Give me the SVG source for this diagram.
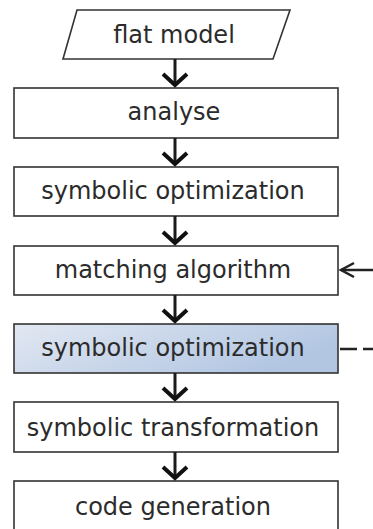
<svg xmlns="http://www.w3.org/2000/svg" width="373" height="529" viewBox="0 0 373 529">
<style>
.box{fill:#fff;stroke:#333;stroke-width:1.6}
.lbl{font-family:"DejaVu Sans",Verdana,sans-serif;font-size:24px;fill:#2b2b2b;text-anchor:middle}
.ln{stroke:#1a1a1a;stroke-width:3;fill:none}
.hd{stroke:#111;stroke-width:4;fill:none;stroke-linejoin:miter}
.side{stroke:#222;stroke-width:2.5;fill:none}
</style>
<defs>
<linearGradient id="blue" x1="0" y1="0" x2="1" y2="0.4">
<stop offset="0" stop-color="#e2e8f2"/>
<stop offset="1" stop-color="#b2c6e2"/>
</linearGradient>
</defs>
<rect width="373" height="529" fill="#fff"/>
<g id="n-flat-model">
<polygon class="box" points="77,10 290,10 273,59 63,59"/>
<text class="lbl" x="174" y="43">flat model</text>
</g>
<g id="n-analyse">
<rect class="box" x="14" y="88" width="324" height="50"/>
<text class="lbl" x="174" y="120">analyse</text>
</g>
<g id="n-symopt1">
<rect class="box" x="14" y="167" width="324" height="49"/>
<text class="lbl" x="173" y="199">symbolic optimization</text>
</g>
<g id="n-matching">
<rect class="box" x="14" y="246" width="324" height="49"/>
<text class="lbl" x="173" y="278">matching algorithm</text>
</g>
<g id="n-symopt2">
<rect class="box" x="14" y="324" width="324" height="49" style="fill:url(#blue)"/>
<text class="lbl" x="173" y="356">symbolic optimization</text>
</g>
<g id="n-symtrans">
<rect class="box" x="14" y="402" width="324" height="50"/>
<text class="lbl" x="173" y="436">symbolic transformation</text>
</g>
<g id="n-codegen">
<rect class="box" x="14" y="481" width="324" height="60"/>
<text class="lbl" x="173" y="515">code generation</text>
</g>
<g id="connectors">
<line class="ln" x1="175" y1="59" x2="175" y2="85"/>
<polyline class="hd" points="163,74 175,85 187,74"/>
<line class="ln" x1="175" y1="138" x2="175" y2="164"/>
<polyline class="hd" points="163,153 175,164 187,153"/>
<line class="ln" x1="175" y1="216" x2="175" y2="243"/>
<polyline class="hd" points="163,232 175,243 187,232"/>
<line class="ln" x1="175" y1="295" x2="175" y2="321"/>
<polyline class="hd" points="163,310 175,321 187,310"/>
<line class="ln" x1="175" y1="373" x2="175" y2="399"/>
<polyline class="hd" points="163,388 175,399 187,388"/>
<line class="ln" x1="175" y1="452" x2="175" y2="478"/>
<polyline class="hd" points="163,467 175,478 187,467"/>
<line class="side" x1="373" y1="270" x2="341" y2="270"/>
<polyline class="side" points="354,263 341,270 354,277"/>
<line class="side" x1="340" y1="349" x2="373" y2="349" stroke-dasharray="17 6"/>
</g>
</svg>
